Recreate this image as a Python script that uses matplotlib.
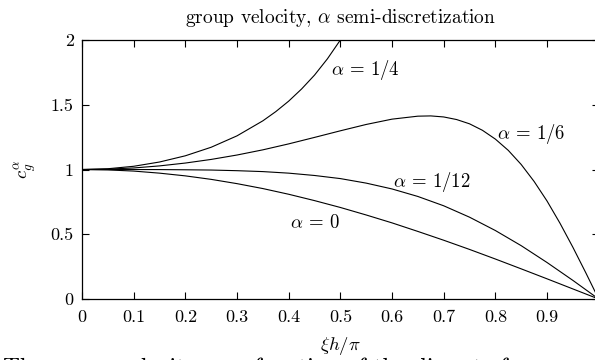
import matplotlib
matplotlib.use("Agg")
import matplotlib.pyplot as plt

plt.rcParams["font.family"] = "serif"
plt.rcParams["font.serif"] = ["cmr10"]
plt.rcParams["mathtext.fontset"] = "cm"
plt.rcParams["axes.unicode_minus"] = False
plt.rcParams["axes.formatter.use_mathtext"] = True

# valores (xi h / pi -> c_g)
x_comum = [0, 0.05, 0.1, 0.15, 0.2, 0.25, 0.3, 0.35, 0.4, 0.45, 0.5,
           0.55, 0.6, 0.65, 0.7, 0.75, 0.8, 0.85, 0.9, 0.95, 1.0]

cg_alfa0 = [1.0, 0.997, 0.988, 0.972, 0.951, 0.924, 0.891, 0.853, 0.809, 0.760, 0.707,
            0.649, 0.588, 0.522, 0.454, 0.383, 0.309, 0.233, 0.156, 0.078, 0.0]

cg_alfa12 = [1.0, 1.000, 1.000, 0.9995, 0.998, 0.996, 0.991, 0.984, 0.972, 0.954, 0.930,
             0.895, 0.850, 0.792, 0.720, 0.632, 0.529, 0.412, 0.282, 0.144, 0.0]

x_alfa6 = [0, 0.05, 0.1, 0.15, 0.2, 0.25, 0.3, 0.35, 0.4, 0.45, 0.5, 0.55, 0.6,
           0.65, 0.675, 0.7, 0.725, 0.75, 0.775, 0.8, 0.825, 0.85, 0.875, 0.9,
           0.925, 0.95, 0.975, 1.0]
cg_alfa6 = [1.0, 1.003, 1.012, 1.028, 1.050, 1.078, 1.112, 1.152, 1.198, 1.248, 1.299,
            1.348, 1.389, 1.412, 1.414, 1.406, 1.386, 1.353, 1.303, 1.235, 1.148,
            1.039, 0.908, 0.757, 0.586, 0.400, 0.203, 0.0]

x_alfa4 = [0, 0.05, 0.1, 0.15, 0.2, 0.25, 0.3, 0.35, 0.375, 0.4, 0.425, 0.45, 0.475, 0.5]
cg_alfa4 = [1.0, 1.006, 1.025, 1.058, 1.106, 1.172, 1.260, 1.376, 1.447, 1.528,
            1.622, 1.729, 1.855, 2.0]

rotulos = [r"$\alpha$ = 0", r"$\alpha$ = 1/12", r"$\alpha$ = 1/6", r"$\alpha$ = 1/4"]
pos_rotulos = [(0.403, 0.587), (0.601, 0.906), (0.803, 1.274), (0.482, 1.768)]

fig = plt.figure(figsize=(5.95, 3.6), dpi=100)
ax = fig.add_axes([0.1378, 0.1694, 0.8684, 0.7194])

ax.plot(x_comum, cg_alfa0, color="black", lw=0.8)
ax.plot(x_comum, cg_alfa12, color="black", lw=0.8)
ax.plot(x_alfa6, cg_alfa6, color="black", lw=0.8)
ax.plot(x_alfa4, cg_alfa4, color="black", lw=0.8)

for texto, (xt, yt) in zip(rotulos, pos_rotulos):
    ax.text(xt, yt, texto, fontsize=13.5, va="center", ha="left")

ax.set_xlim(0, 1)
ax.set_ylim(0, 2)
ax.set_xticks([0, 0.1, 0.2, 0.3, 0.4, 0.5, 0.6, 0.7, 0.8, 0.9, 1])
ax.set_xticklabels(["0", "0.1", "0.2", "0.3", "0.4", "0.5", "0.6", "0.7", "0.8", "0.9", "1"])
ax.set_yticks([0, 0.5, 1, 1.5, 2])
ax.set_yticklabels(["0", "0.5", "1", "1.5", "2"])
ax.tick_params(axis="x", pad=8)
ax.tick_params(direction="in", top=True, right=True, length=5, width=0.8,
               labelsize=13)
ax.tick_params(axis="y", pad=6)
for lado in ax.spines.values():
    lado.set_linewidth(0.9)

ax.set_title(r"group velocity, $\alpha$ semi-discretization", fontsize=14, pad=12)
ax.set_xlabel(r"$\xi h/\pi$", fontsize=13.5, labelpad=7)
ax.set_ylabel(r"$c_g^\alpha$", fontsize=13.5, labelpad=8)

# legenda do documento original, quase toda fora da borda inferior
legenda = fig.text(0.005, 0.0, "The group velocity as a function of the discrete frequency",
                   fontsize=17, ha="left", va="baseline")
legenda.set_y(-0.042)

fig.savefig("out.png", dpi=100)
